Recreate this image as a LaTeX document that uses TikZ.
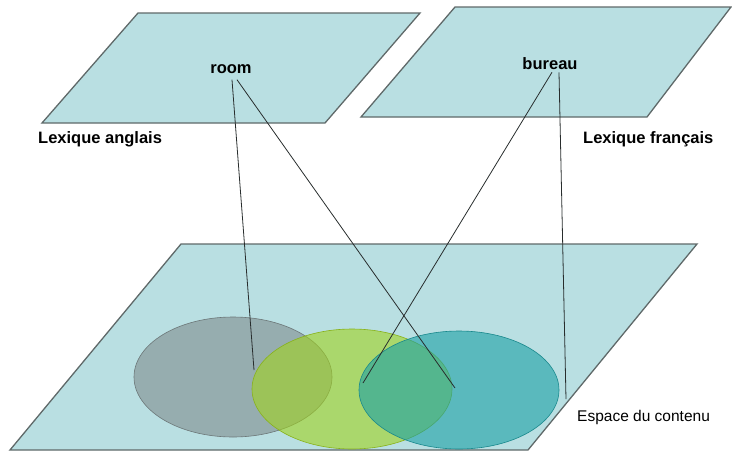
\documentclass[tikz,border=0pt]{standalone}
\usepackage{fontspec}
\setmainfont{Liberation Sans}
\definecolor{plan}{RGB}{185,223,226}
\definecolor{planbord}{RGB}{95,105,105}
\definecolor{gris}{RGB}{127,140,141}
\definecolor{vert}{RGB}{160,210,30}
\definecolor{bleu}{RGB}{28,160,165}
\definecolor{trait}{RGB}{40,45,45}

\begin{document}
\begin{tikzpicture}[x=1pt,y=-1pt,
    plan/.style={fill=plan,draw=planbord,line width=1.3pt},
    sens/.style={draw=#1!85!black,fill=#1,fill opacity=0.6,line width=0.6pt},
    mot/.style={font=\fontsize{16.5}{19}\selectfont\bfseries,inner sep=0pt},
    legende/.style={font=\fontsize{15.5}{18}\selectfont,inner sep=0pt,anchor=west},
    lien/.style={draw=trait,line width=0.8pt}]
        \useasboundingbox (0,0) rectangle (732,451);
        %les trois plans
        \draw[plan] (138,13) -- (420,13) -- (325,123) -- (42,123) -- cycle;
        \draw[plan] (455,7) -- (731,7) -- (647,117) -- (361,117) -- cycle;
        \draw[plan] (181,244) -- (697,244) -- (528,450) -- (10,450) -- cycle;
        %les sens
        \draw[sens=gris] (233,377) ellipse [x radius=99, y radius=60];
        \draw[sens=vert] (352,389) ellipse [x radius=100, y radius=60];
        \draw[sens=bleu] (459,390) ellipse [x radius=100, y radius=59];
        %les mots
        \node[mot] (room) at (231,69) {room};
        \node[mot] (bureau) at (550,64) {bureau};
        \node[mot,anchor=west] (angl) at (38,139) {Lexique anglais};
        \node[mot,anchor=west] (fr) at (583,139) {Lexique français};
        \node[legende] (espace) at (577,417) {Espace du contenu};
        %bouts des liens
        \coordinate (r1) at (254,370);
        \coordinate (r2) at (455,388);
        \coordinate (b1) at (363,383);
        \coordinate (b2) at (566,399);
        \draw[lien] ([shift={(1,6)}]room.south) -- (r1);
        \draw[lien] ([shift={(6,6)}]room.south) -- (r2);
        \draw[lien] ([shift={(2,2)}]bureau.south) -- (b1);
        \draw[lien] ([shift={(9,2)}]bureau.south) -- (b2);
\end{tikzpicture}
\end{document}
